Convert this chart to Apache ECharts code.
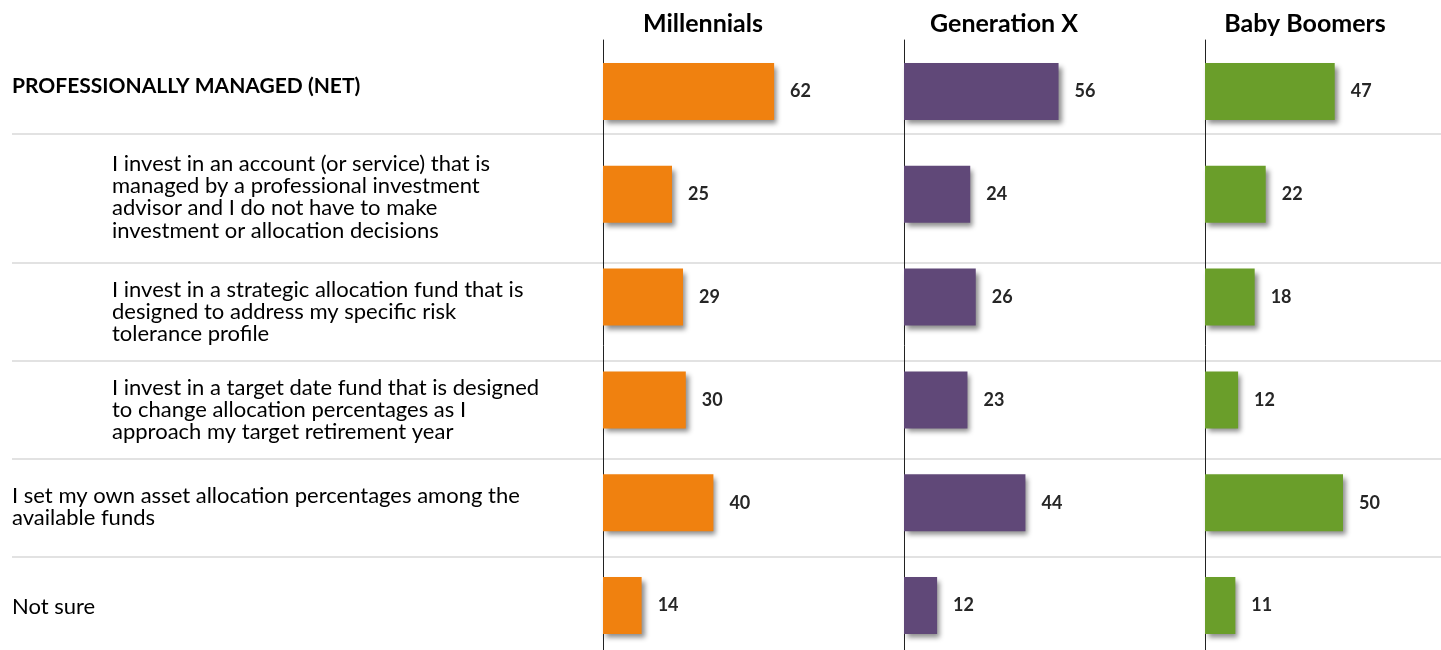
<!DOCTYPE html>
<html>
<head>
<meta charset="utf-8">
<script src="https://cdn.jsdelivr.net/npm/echarts@6/dist/echarts.min.js"></script>
<style>
  html, body { margin: 0; padding: 0; background: #fff; }
  #chart { width: 1441px; height: 650px; }
</style>
</head>
<body>
<div id="chart"></div>
<script>
const categories = [
  'PROFESSIONALLY MANAGED (NET)',
  'I invest in an account (or service) that is\nmanaged by a professional investment\nadvisor and I do not have to make\ninvestment or allocation decisions',
  'I invest in a strategic allocation fund that is\ndesigned to address my specific risk\ntolerance profile',
  'I invest in a target date fund that is designed\nto change allocation percentages as I\napproach my target retirement year',
  'I set my own asset allocation percentages among the\navailable funds',
  'Not sure'
]
const groups = ['Millennials', 'Generation X', 'Baby Boomers']
const millennials = [62, 25, 29, 30, 40, 14]
const generationX = [56, 24, 26, 23, 44, 12]
const babyBoomers = [47, 22, 18, 12, 50, 11]

// label styling per row (bold / indent / vertical nudge)
const labelBold = [true, false, false, false, false, false]
const labelIndent = [0, 100, 100, 100, 0, 0]
const labelShift = [-5, 3, 15, 10, 4, 1]

const colors = ['#F0810F', '#604878', '#6A9E2A']
const seriesData = [millennials, generationX, babyBoomers]
const axisLefts = [603, 904, 1205]
const font = 'Lato'

const chart = echarts.init(document.getElementById('chart'))

const yData = categories.map((c, i) => ({
  value: c,
  textStyle: {
    align: 'left',
    fontWeight: labelBold[i] ? 'bold' : 'normal',
    fontSize: labelBold[i] ? 21 : 22,
    padding: [0, 0, 0, labelIndent[i]]
  }
}))

// spacer line above/below the label to nudge it off the bar centre
function shiftLabel (value, index) {
  const s = labelShift[index]
  if (s > 0) return '{sp' + s + '| }\n' + value
  if (s < 0) return value + '\n{sp' + (-s) + '| }'
  return value
}
const spacers = {}
labelShift.forEach(s => {
  const a = Math.abs(s)
  if (a) spacers['sp' + a] = { fontSize: 1, lineHeight: a * 2 }
})

const option = {
  animation: false,
  title: groups.map((g, i) => ({
    text: g,
    left: axisLefts[i] + 95,
    top: 6,
    textAlign: 'center',
    textStyle: { fontFamily: font, fontSize: 25, fontWeight: 'bold', color: '#000' }
  })),
  grid: axisLefts.map(l => ({
    left: l, top: 40, width: 276, height: 617,
    containLabel: false, outerBoundsMode: 'none'
  })),
  xAxis: axisLefts.map((l, i) => ({
    type: 'value', gridIndex: i, min: 0, max: 100, show: false
  })),
  yAxis: axisLefts.map((l, i) => ({
    type: 'category',
    gridIndex: i,
    inverse: true,
    data: yData,
    axisLine: { show: true, lineStyle: { color: '#222', width: 1 } },
    axisTick: { show: false },
    splitLine: { show: false },
    axisLabel: {
      show: i === 0,
      align: 'left',
      margin: 591,
      fontFamily: font,
      fontSize: 22,
      lineHeight: 22.3,
      color: '#000',
      formatter: shiftLabel,
      rich: spacers
    }
  })),
  series: seriesData.map((d, i) => ({
    type: 'bar',
    name: groups[i],
    xAxisIndex: i,
    yAxisIndex: i,
    data: d,
    barWidth: 57,
    itemStyle: {
      color: colors[i],
      shadowColor: 'rgba(0,0,0,0.45)',
      shadowBlur: 5,
      shadowOffsetX: 3,
      shadowOffsetY: 4
    },
    label: {
      show: true,
      position: 'right',
      distance: 16,
      fontFamily: font,
      fontSize: 18,
      fontWeight: 'bold',
      color: '#262626'
    }
  })),
  graphic: [134, 263, 361, 459, 557].map(y => ({
    type: 'line',
    z: -1,
    shape: { x1: 12, y1: y, x2: 1441, y2: y },
    style: { stroke: '#d9d9d9', lineWidth: 1.5 }
  }))
}

chart.setOption(option)
</script>
</body>
</html>
